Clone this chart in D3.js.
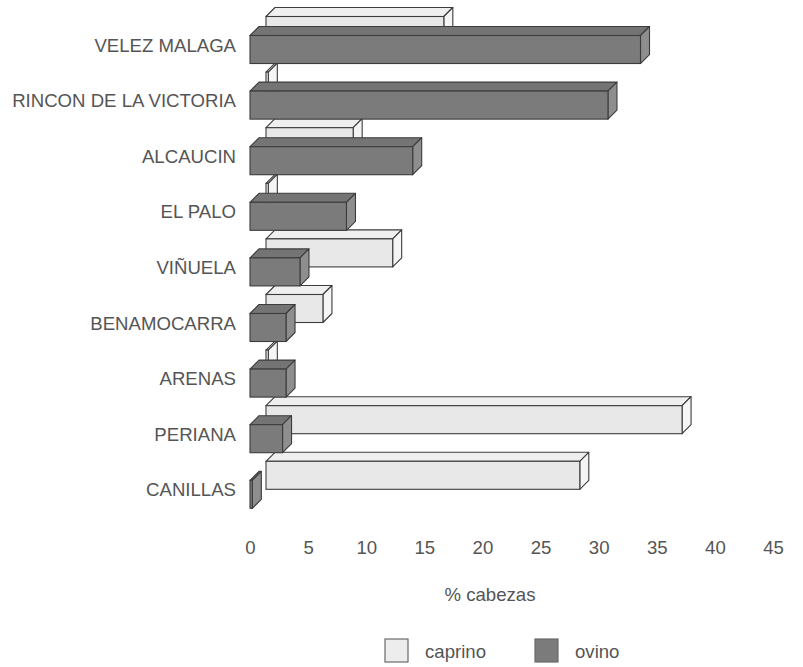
<!DOCTYPE html>
<html>
<head>
<meta charset="utf-8">
<script src="https://cdn.jsdelivr.net/npm/d3@7/dist/d3.min.js"></script>
<style>
  html, body { margin: 0; padding: 0; background: #ffffff; }
  svg { display: block; }
  text { font-family: "Liberation Sans", Arial, Helvetica, sans-serif; fill: #555555; }
</style>
</head>
<body>
<svg id="chart" width="803" height="667"></svg>
<script>
// ---- data ----
const categories = ["VELEZ MALAGA", "RINCON DE LA VICTORIA", "ALCAUCIN", "EL PALO", "VIÑUELA",
                    "BENAMOCARRA", "ARENAS", "PERIANA", "CANILLAS"];
const caprino = [15.3, 0.2, 7.5, 0.2, 10.9, 4.9, 0.2, 35.8, 27.0];
const ovino   = [33.6, 30.8, 14.0, 8.3, 4.3, 3.1, 3.1, 2.8, 0.2];
const xTicks  = [0, 5, 10, 15, 20, 25, 30, 35, 40, 45];
const seriesNames = ["caprino", "ovino"];
const axisTitle = "% cabezas";

// ---- geometry ----
const svg = d3.select("#chart");
const x = d3.scaleLinear().domain([0, 45]).range([250, 773]);
const y = d3.scaleBand().domain(categories).range([35.5, 508.3]).paddingInner(0.496).paddingOuter(0);
const ext = { dx: 9, dy: 9 };          // bar extrusion
const back = { dx: 16, dy: -19 };      // depth offset of the back series

const styles = {
  caprino: { front: "#e8e8e8", top: "#efefef", side: "#f5f5f5" },
  ovino:   { front: "#7b7b7b", top: "#747474", side: "#8e8e8e" }
};
const stroke = "#3c3c3c";

function bar3d(g, x0, x1, yTop, h, st) {
  const d = ext;
  g.append("polygon")
    .attr("points", [[x0, yTop], [x0 + d.dx, yTop - d.dy], [x1 + d.dx, yTop - d.dy], [x1, yTop]].join(" "))
    .attr("fill", st.top).attr("stroke", stroke).attr("stroke-width", 1.1).attr("stroke-linejoin", "round");
  g.append("polygon")
    .attr("points", [[x1, yTop], [x1 + d.dx, yTop - d.dy], [x1 + d.dx, yTop + h - d.dy], [x1, yTop + h]].join(" "))
    .attr("fill", st.side).attr("stroke", stroke).attr("stroke-width", 1.1).attr("stroke-linejoin", "round");
  g.append("rect")
    .attr("x", x0).attr("y", yTop).attr("width", Math.max(0, x1 - x0)).attr("height", h)
    .attr("fill", st.front).attr("stroke", stroke).attr("stroke-width", 1.1);
}

// back series (caprino) first
const gBack = svg.append("g").attr("class", "caprino");
categories.forEach((c, i) => {
  bar3d(gBack, x(0) + back.dx, x(caprino[i]) + back.dx, y(c) + back.dy, y.bandwidth(), styles.caprino);
});
// front series (ovino)
const gFront = svg.append("g").attr("class", "ovino");
categories.forEach((c, i) => {
  bar3d(gFront, x(0), x(ovino[i]), y(c), y.bandwidth(), styles.ovino);
});

// category labels
svg.append("g").selectAll("text").data(categories).join("text")
  .attr("x", 236)
  .attr("y", d => y(d) + y.bandwidth() / 2 - ext.dy / 2)
  .attr("dy", "0.35em")
  .attr("text-anchor", "end")
  .attr("font-size", 18.6)
  .text(d => d);

// x axis (labels only)
const xAxis = d3.axisBottom(x).tickValues(xTicks).tickSize(0).tickFormat(d3.format("d"));
const gx = svg.append("g").attr("transform", "translate(0,547)").call(xAxis);
gx.select(".domain").remove();
gx.selectAll("text")
  .attr("y", 0).attr("dy", "0.35em")
  .attr("font-size", 18.6)
  .attr("font-family", "Liberation Sans, Arial, sans-serif")
  .attr("fill", "#555555");

// axis title
svg.append("text")
  .attr("x", 490).attr("y", 594).attr("dy", "0.35em")
  .attr("text-anchor", "middle").attr("font-size", 18.6)
  .text(axisTitle);

// legend
const legendX = [385, 535];
const legend = svg.append("g");
seriesNames.forEach((s, i) => {
  legend.append("rect")
    .attr("x", legendX[i]).attr("y", 639).attr("width", 23).attr("height", 23)
    .attr("fill", i === 0 ? "#ededed" : styles.ovino.front)
    .attr("stroke", "#6a6a6a").attr("stroke-width", 1.2);
  legend.append("text")
    .attr("x", legendX[i] + 40).attr("y", 651).attr("dy", "0.35em")
    .attr("font-size", 18.6)
    .text(s);
});
</script>
</body>
</html>
